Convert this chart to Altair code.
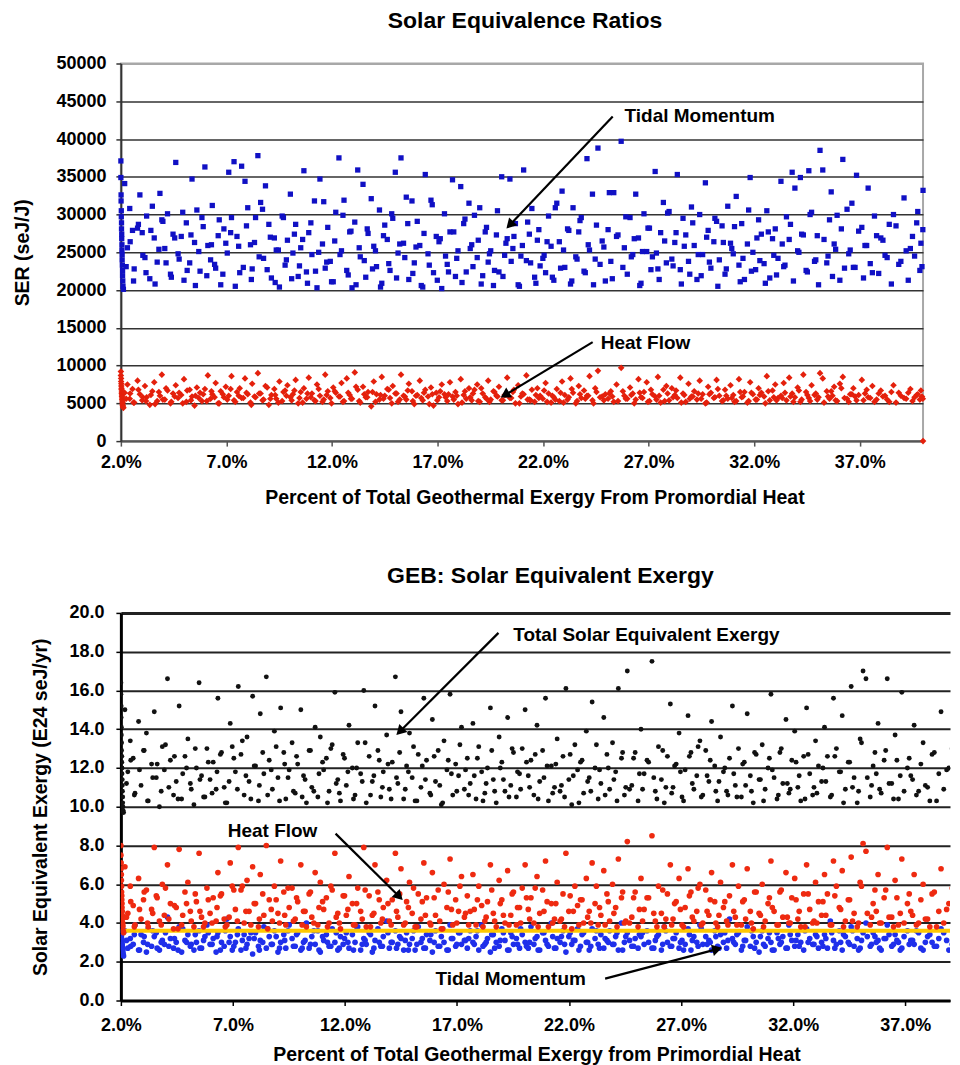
import math
import altair as alt
import pandas as pd

FONT = "Liberation Sans"

# ---------------- data ----------------
pct = [
    2.00, 2.00, 2.01, 2.01, 2.02, 2.02, 2.03, 2.03, 2.04, 2.04, 2.05, 2.05, 2.06, 2.06, 2.07, 2.08, 2.08, 2.09, 2.10, 2.12,
    2.18, 2.31, 2.42, 2.55, 2.63, 2.79, 2.90, 3.01, 3.14, 3.22, 3.37, 3.49, 3.58, 3.72, 3.85, 3.94, 4.08, 4.21, 4.35, 4.47,
    4.60, 4.71, 4.86, 4.99, 5.10, 5.26, 5.37, 5.49, 5.60, 5.75, 5.84, 5.98, 6.12, 6.25, 6.33, 6.49, 6.61, 6.73, 6.88, 6.97,
    7.11, 7.24, 7.36, 7.50, 7.63, 7.72, 7.88, 8.01, 8.14, 8.22, 8.38, 8.49, 8.62, 8.76, 8.85, 9.01, 9.13, 9.27, 9.36, 9.51,
    9.64, 9.78, 9.89, 10.03, 10.15, 10.28, 10.40, 10.52, 10.67, 10.79, 10.90, 11.05, 11.17, 11.29, 11.43, 11.55, 11.68, 11.80, 11.92, 12.06,
    12.18, 12.33, 12.45, 12.57, 12.70, 12.84, 12.95, 13.08, 13.22, 13.34, 13.47, 13.60, 13.71, 13.86, 13.98, 14.11, 14.25, 14.36, 14.50, 14.62,
    14.75, 14.88, 15.00, 15.13, 15.27, 15.39, 15.52, 15.64, 15.79, 15.90, 16.04, 16.16, 16.30, 16.42, 16.55, 16.69, 16.81, 16.94, 17.07, 17.20,
    17.33, 17.46, 17.59, 17.71, 17.85, 17.97, 18.10, 18.24, 18.36, 18.49, 18.62, 18.75, 18.88, 19.00, 19.14, 19.26, 19.40, 19.52, 19.65, 19.79,
    19.91, 20.04, 20.18, 20.30, 20.43, 20.57, 20.69, 20.82, 20.95, 21.08, 21.21, 21.35, 21.47, 21.60, 21.73, 21.86, 21.99, 22.12, 22.26, 22.38,
    22.51, 22.65, 22.77, 22.90, 23.03, 23.16, 23.30, 23.42, 23.55, 23.69, 23.81, 23.94, 24.08, 24.20, 24.34, 24.47, 24.60, 24.80, 24.95, 25.08,
    25.21, 25.35, 25.48, 25.70, 25.85, 25.99, 26.12, 26.25, 26.39, 26.52, 26.64, 26.78, 26.91, 27.04, 27.18, 27.31, 27.44, 27.57, 27.70, 27.84,
    27.97, 28.10, 28.24, 28.36, 28.50, 28.63, 28.76, 28.89, 29.03, 29.16, 29.29, 29.42, 29.56, 29.69, 29.82, 29.95, 30.09, 30.22, 30.35, 30.48,
    30.62, 30.75, 30.88, 31.01, 31.15, 31.28, 31.41, 31.54, 31.68, 31.81, 31.94, 32.07, 32.21, 32.34, 32.47, 32.60, 32.74, 32.87, 33.00, 33.13,
    33.27, 33.40, 33.53, 33.66, 33.80, 33.93, 34.06, 34.19, 34.33, 34.46, 34.59, 34.72, 34.86, 34.99, 35.12, 35.25, 35.50, 35.65, 35.79, 35.93,
    36.06, 36.20, 36.40, 36.55, 36.70, 36.85, 37.10, 37.25, 37.40, 37.60, 37.80, 38.00, 38.20, 38.40, 38.60, 38.85, 39.10, 39.40, 39.70, 40.00,
    2.25, 2.44, 2.60, 2.83, 3.04, 3.19, 3.42, 3.62, 3.80, 3.99, 4.14, 4.39, 4.55, 4.76, 4.93, 5.14, 5.32, 5.53, 5.69, 5.90,
    6.07, 6.29, 6.44, 6.66, 6.83, 7.04, 7.20, 7.42, 7.58, 7.80, 7.95, 8.18, 8.33, 8.55, 8.71, 8.93, 9.08, 9.31, 9.46, 9.70,
    9.84, 10.09, 10.22, 10.46, 10.61, 10.84, 11.00, 11.22, 11.37, 11.61, 11.75, 11.98, 12.13, 12.38, 12.52, 12.77, 12.90, 13.14, 13.29, 13.53,
    13.67, 13.92, 14.06, 14.30, 14.44, 14.69, 14.83, 15.06, 15.21, 15.45, 15.59, 15.83, 15.98, 16.23, 16.36, 16.61, 16.75, 16.99, 17.13, 17.38,
    17.52, 17.77, 17.91, 18.16, 18.30, 18.55, 18.68, 18.93, 19.07, 19.32, 19.46, 19.70, 19.84, 20.10, 20.24, 20.49, 20.62, 20.88, 21.02, 21.27,
    21.41, 21.66, 21.80, 22.05, 22.19, 22.44, 22.58, 22.83, 22.97, 23.22, 23.36, 23.61, 23.75, 24.00, 24.14, 24.39, 24.53, 24.70, 24.88, 25.14,
    25.28, 25.55, 25.78, 25.92, 26.18, 26.32, 26.58, 26.71, 26.97, 27.11, 27.37, 27.50, 27.76, 27.90, 28.16, 28.30, 28.55, 28.69, 28.95, 29.09,
    29.35, 29.49, 29.75, 29.88, 30.14, 30.28, 30.54, 30.68, 30.94, 31.07, 31.34, 31.47, 31.74, 31.87, 32.13, 32.27, 32.53, 32.67, 32.93, 33.06,
    33.33, 33.46, 33.72, 33.86, 34.12, 34.25, 34.52, 34.65, 34.92, 35.05, 35.31, 35.44, 35.57, 35.71, 35.86, 36.13, 36.28, 36.48, 36.63, 36.78,
    36.95, 37.18, 37.33, 37.50, 37.70, 37.90, 38.10, 38.30, 38.50, 38.72, 38.95, 39.20, 39.30, 39.50, 39.60, 39.75, 39.85, 39.90, 39.95, 39.99,
]

ser_tidal = [
    37100, 34900, 32600, 31800, 30500, 29700, 28900, 28100, 27400, 26800, 26000, 25300, 24700, 24000, 23300, 22600, 21900, 21200, 20500, 20100,
    34100, 25600, 30800, 27900, 22800, 28200, 32600, 27600, 24300, 29800, 21500, 31100, 26900, 23700, 32800, 29300, 25500, 30100, 22100, 27400,
    36900, 24800, 27100, 21300, 28900, 23600, 34700, 26300, 30600, 22500, 29600, 36300, 25900, 24000, 31200, 22900, 27200, 20700, 28100, 26200,
    35600, 29600, 37000, 27100, 22300, 36400, 34400, 30900, 26000, 22800, 29600, 37800, 31600, 24200, 33800, 28700, 21600, 26900, 25300, 20400,
    29800, 23300, 26600, 32700, 24900, 28700, 21800, 25600, 35800, 22400, 27600, 24700, 31800, 20300, 34700, 26100, 22900, 28300, 23800, 21100,
    30300, 37500, 25200, 31900, 22600, 27700, 20300, 29000, 35900, 24400, 34000, 21700, 27500, 32100, 25800, 23100, 30600, 20900, 28600, 26700,
    22600, 29500, 35600, 24900, 37500, 26200, 32300, 21400, 31800, 23600, 29100, 25900, 20400, 35300, 24800, 31900, 22300, 27100, 26400, 20200,
    30100, 23400, 27700, 34600, 21800, 25200, 33700, 28800, 22400, 31500, 26000, 29900, 24300, 30900, 21900, 27700, 23700, 25200, 20600, 27300,
    22400, 35000, 24600, 26800, 34700, 25500, 28800, 20700, 24500, 35900, 23900, 27400, 30800, 21700, 26600, 23200, 24200, 22300, 29800, 25800,
    21300, 31500, 26400, 33100, 23000, 28100, 20800, 30900, 24400, 27700, 29600, 22500, 37400, 25300, 32700, 24100, 38800, 26500, 21200, 28000,
    23800, 32900, 27100, 39700, 25600, 22100, 29600, 24700, 32700, 26900, 20900, 30100, 25100, 28200, 24400, 35700, 22800, 27600, 31600, 23600,
    30400, 24100, 26300, 35300, 22700, 29500, 27300, 23800, 31000, 25900, 21400, 30000, 24700, 34200, 27900, 22900, 26400, 29100, 24000, 28500,
    22100, 31100, 26200, 24800, 32400, 23300, 28800, 21400, 26100, 34900, 25000, 22700, 29300, 27400, 23500, 30500, 21600, 26800, 28100, 24200,
    34400, 23100, 29700, 26700, 35600, 33500, 25200, 34900, 27300, 22600, 35800, 30300, 23800, 27200, 38500, 35900, 24500, 33000, 26100, 29900,
    21300, 37300, 30700, 25300, 23000, 35200, 28300, 25900, 33500, 22300, 27200, 26900, 24600, 28700, 30000, 23400, 32200, 25500, 28900, 33200,
    23100, 26400, 21200, 28700, 24600, 22300, 27900, 20800, 25400, 29100, 23600, 21700, 26900, 24100, 30300, 22600, 27300, 20600, 25100, 28400,
    21900, 26000, 23400, 29300, 22100, 24900, 27600, 20500, 25800, 23000, 28500, 21400, 26300, 24400, 30700, 22700, 27000, 21000, 25300, 29600,
    24000, 21500, 27400, 23200, 26700, 20900, 28900, 22500, 25000, 31700, 23700, 21100, 26500, 24700, 29900, 22000, 27800, 20700, 25600, 23900,
    28100, 22800, 25200, 20400, 27200, 23500, 30100, 21600, 26100, 24300, 28800, 22200, 25700, 20600, 27500, 23300, 31300, 21300, 26800, 24500,
    22400, 27700, 24200, 21000, 29400, 25500, 23100, 26600, 20800, 28300, 24800, 22600, 30500, 21800, 26200, 23800, 27100, 20500, 25900, 29000,
    23600, 20900, 28000, 24600, 26400, 21700, 30900, 22900, 25300, 27900, 21200, 24100, 29200, 22300, 26000, 20700, 28600, 23400, 25700, 32900,
    21500, 27300, 23000, 29700, 24400, 26800, 20600, 25100, 28200, 22700, 24900, 21400, 26500, 30200, 23200, 27600, 20800, 25800, 22100, 28900,
    24700, 21900, 27000, 23700, 29500, 20500, 26300, 22800, 25500, 28400, 21100, 24200, 30600, 22500, 26900, 23900, 20900, 27700, 24600, 22000,
    26100, 23300, 28700, 21200, 25000, 27400, 22400, 30000, 24000, 20700, 26700, 23600, 29300, 21800, 25400, 28100, 22900, 24800, 31500, 23000,
    27800, 21600, 25900, 23500, 29800, 22200, 26600, 24300, 20800, 28500, 23800, 25200, 21300, 27100, 24500, 30400, 22600, 26200, 23100, 28000,
]

ser_heat = [
    9200, 8700, 8300, 7900, 7600, 7300, 7000, 6800, 6500, 6300, 6100, 5900, 5700, 5500, 5300, 5100, 4900, 4700, 4500, 4400,
    6400, 7500, 5600, 6900, 5100, 8000, 6200, 5400, 7300, 5800, 4800, 6600, 7800, 5300, 6000, 8800, 5500, 6700, 5000, 6300,
    7400, 5700, 6100, 8200, 5200, 6800, 5900, 4700, 7100, 6400, 5300, 6900, 8700, 5600, 6200, 7700, 5000, 6600, 5800, 7200,
    6000, 8600, 5400, 6500, 7000, 5700, 8300, 6200, 5100, 7600, 5800, 9000, 6300, 5500, 7300, 4800, 6100, 6900, 5600, 7900,
    5300, 6700, 7400, 5800, 6200, 8100, 5000, 6500, 7000, 5600, 8400, 6300, 5400, 7500, 6000, 5200, 8800, 6600, 5700, 7100,
    6400, 5900, 7700, 5300, 8300, 6100, 5600, 9100, 6800, 5100, 7200, 5800, 6500, 4600, 7900, 6200, 5500, 8500, 6000, 6900,
    5700, 7300, 6300, 5200, 8800, 6000, 5500, 7600, 6600, 4900, 6100, 8000, 5400, 6800, 5900, 7100, 4700, 6400, 5800, 7500,
    6200, 5300, 7800, 5900, 6500, 4900, 8200, 6100, 5600, 7000, 5400, 6800, 7500, 5200, 6300, 5800, 8000, 5500, 6600, 6000,
    7200, 5400, 6100, 8400, 5700, 6500, 5000, 7400, 5900, 6200, 8700, 5500, 6800, 5200, 7000, 6000, 5600, 7700, 6300, 5100,
    5800, 6900, 5300, 7900, 6100, 5500, 8300, 6400, 5000, 7300, 5700, 6700, 6000, 8600, 5400, 7000, 9300, 5900, 6200, 5600,
    6600, 5200, 7500, 9700, 6000, 5600, 7100, 6300, 5500, 8200, 5800, 6500, 7800, 5300, 6200, 5900, 8500, 5100, 6800, 7300,
    5400, 7000, 6100, 5700, 8400, 6300, 5200, 7600, 5900, 6600, 5500, 8000, 6200, 5000, 7200, 6400, 5700, 8100, 6000, 5300,
    6800, 5600, 7400, 6100, 5300, 8200, 5800, 6500, 5100, 7800, 6200, 5500, 7000, 6400, 5900, 8600, 5400, 6700, 7500, 5700,
    6000, 7700, 5400, 8400, 6300, 5800, 7100, 5200, 8800, 6500, 5700, 7400, 6100, 5500, 9000, 8300, 5900, 6600, 7200, 5300,
    7600, 8500, 5600, 6200, 7000, 5400, 8100, 6300, 5800, 7300, 5500, 6700, 6000, 5200, 7400, 6400, 5700, 6900, 6100, 0,
    5600, 6300, 5100, 6800, 5800, 5300, 6100, 4900, 6500, 5500, 7000, 5200, 5900, 6400, 5000, 6700, 5400, 6000, 5700, 6200,
    5300, 6600, 5800, 5000, 6200, 5500, 6900, 5200, 6000, 5700, 6400, 4800, 5900, 6300, 5400, 7100, 5600, 6100, 5100, 6500,
    6000, 5400, 6700, 5700, 5100, 6300, 5800, 5300, 6900, 5500, 6100, 5000, 6600, 5900, 5200, 6400, 5600, 7200, 5300, 6200,
    5800, 6500, 5200, 6100, 5600, 6800, 5000, 6300, 5500, 5900, 6700, 5300, 6000, 5700, 6400, 4900, 6200, 5400, 6600, 5800,
    6200, 5500, 6000, 5100, 6600, 5800, 6300, 5300, 7000, 5600, 5200, 6500, 5900, 5400, 6100, 5700, 6800, 5000, 6300, 5500,
    5400, 6100, 5700, 6700, 5200, 6000, 5500, 6400, 5100, 5800, 6900, 5300, 6200, 5600, 6000, 5000, 6500, 5800, 5400, 6300,
    5900, 5300, 6600, 5600, 6100, 5000, 6400, 5700, 5200, 6800, 5500, 6000, 5300, 6300, 5800, 6700, 5100, 6100, 5600, 5900,
    6300, 5600, 5100, 6200, 5800, 6900, 5400, 6000, 5700, 5200, 6500, 5900, 5300, 6400, 5500, 6100, 5000, 6600, 5800, 5400,
    5700, 6400, 5900, 5200, 6700, 5500, 6100, 5300, 6300, 5800, 5100, 6600, 5600, 6000, 5400, 7000, 5700, 5200, 6200, 5900,
    6100, 5400, 6800, 5700, 5200, 6300, 5900, 5500, 6500, 5100, 6000, 5600, 6400, 5300, 5800, 6200, 5500, 6700, 5900, 5600,
]

geb_total = [
    16.4, 15.8, 15.2, 14.6, 14.1, 13.7, 13.3, 12.9, 12.6, 12.3, 12.0, 11.7, 11.4, 11.1, 10.8, 10.5, 10.2, 10.0, 9.8, 9.7,
    15.0, 11.8, 13.4, 12.5, 10.7, 14.4, 11.1, 12.9, 13.8, 10.3, 12.2, 14.9, 11.5, 10.0, 13.1, 11.9, 16.6, 12.4, 10.6, 11.3,
    15.2, 10.4, 12.6, 13.5, 11.2, 10.1, 12.0, 16.4, 11.6, 10.5, 13.0, 11.4, 12.3, 10.9, 15.6, 12.8, 11.0, 10.2, 14.3, 13.1,
    11.8, 16.2, 12.7, 10.6, 13.6, 11.3, 15.7, 12.1, 10.3, 14.8, 11.7, 16.7, 12.4, 10.9, 13.9, 11.5, 15.1, 12.8, 10.4, 11.9,
    13.3, 10.7, 12.2, 15.0, 11.6, 10.2, 12.9, 11.0, 14.1, 10.5, 13.6, 11.9, 12.5, 10.8, 13.2, 15.9, 11.4, 10.3, 12.7, 11.1,
    14.2, 12.0, 10.6, 13.3, 11.7, 16.0, 10.2, 12.6, 11.3, 15.2, 12.9, 10.5, 11.8, 13.7, 10.9, 12.3, 16.7, 11.2, 14.9, 10.4,
    12.1, 13.8, 11.5, 10.3, 12.7, 11.0, 15.6, 12.4, 10.7, 14.5, 11.3, 12.9, 10.1, 13.4, 11.9, 15.8, 10.6, 12.2, 11.6, 14.1,
    10.9, 12.5, 11.2, 14.3, 10.4, 13.1, 11.8, 10.7, 12.0, 15.1, 11.4, 10.2, 13.6, 12.3, 10.8, 14.6, 11.1, 12.8, 10.5, 11.7,
    13.0, 15.0, 11.6, 12.4, 10.6, 14.2, 11.3, 12.9, 15.6, 10.3, 12.1, 11.0, 13.5, 10.8, 12.6, 16.1, 11.4, 10.1, 13.2, 11.9,
    12.3, 10.7, 13.9, 11.5, 15.4, 12.0, 10.4, 11.2, 14.6, 12.7, 10.9, 13.3, 11.8, 16.1, 12.5, 10.6, 17.0, 11.1, 12.8, 10.3,
    14.0, 11.7, 12.4, 17.5, 10.8, 13.1, 11.4, 10.2, 12.6, 15.3, 11.0, 12.2, 13.8, 10.5, 11.9, 14.7, 12.8, 10.9, 11.6, 13.4,
    10.6, 12.9, 11.3, 14.4, 12.1, 10.3, 13.6, 11.8, 10.8, 12.5, 15.2, 11.1, 13.0, 10.5, 12.3, 14.8, 11.6, 10.2, 12.7, 11.4,
    13.2, 10.9, 12.0, 15.8, 11.5, 10.4, 12.8, 11.2, 14.5, 10.7, 12.4, 13.9, 11.0, 10.3, 12.6, 15.1, 11.7, 10.6, 13.4, 12.1,
    11.3, 14.1, 12.6, 10.5, 15.6, 13.0, 11.8, 14.7, 10.9, 12.3, 16.2, 11.5, 10.2, 13.5, 17.0, 16.6, 11.1, 12.8, 14.3, 10.7,
    12.4, 16.6, 11.2, 13.7, 10.4, 15.9, 12.0, 11.6, 14.2, 10.8, 13.3, 11.0, 12.7, 10.3, 14.9, 11.9, 13.0, 10.6, 12.2, 11.5,
    11.2, 12.4, 10.6, 11.9, 12.9, 10.3, 11.5, 12.2, 10.8, 13.2, 11.0, 12.6, 10.4, 11.7, 12.0, 10.9, 13.0, 11.4, 10.5, 12.3,
    10.7, 11.8, 12.7, 10.2, 11.3, 12.5, 10.9, 13.4, 11.6, 10.4, 12.1, 11.1, 12.8, 10.6, 11.9, 13.1, 10.3, 12.2, 11.5, 10.8,
    12.6, 10.5, 11.4, 12.9, 10.8, 11.7, 12.3, 10.2, 13.0, 11.2, 10.7, 12.5, 11.8, 10.4, 12.0, 11.3, 13.3, 10.6, 11.6, 12.4,
    11.0, 12.2, 10.4, 11.5, 12.8, 10.9, 11.8, 13.1, 10.3, 12.1, 11.4, 10.6, 12.6, 11.1, 10.2, 12.4, 11.7, 10.8, 13.2, 11.9,
    10.6, 11.6, 12.5, 10.3, 11.2, 12.9, 10.8, 12.0, 11.4, 10.5, 13.0, 11.8, 10.9, 12.3, 11.0, 12.7, 10.4, 11.5, 12.1, 10.7,
    12.2, 11.1, 10.5, 12.7, 11.6, 10.2, 12.4, 11.3, 10.8, 13.2, 11.9, 10.6, 12.0, 11.4, 10.3, 12.8, 11.0, 10.9, 12.5, 11.7,
    10.9, 12.3, 11.5, 10.4, 12.9, 11.0, 10.7, 12.1, 11.8, 10.3, 12.6, 11.2, 13.1, 10.5, 11.6, 12.4, 10.8, 11.3, 12.0, 10.6,
    11.7, 10.5, 12.2, 11.1, 10.8, 12.8, 11.4, 10.3, 12.5, 11.9, 10.6, 13.0, 11.2, 10.9, 12.3, 11.6, 10.4, 12.7, 11.0, 10.7,
    12.0, 11.3, 10.6, 12.6, 11.8, 10.2, 12.3, 11.0, 10.8, 13.3, 11.5, 10.5, 12.1, 11.7, 10.9, 12.9, 11.2, 10.4, 12.4, 11.6,
    10.8, 12.5, 11.4, 10.6, 12.2, 11.1, 10.3, 12.8, 11.7, 10.9, 12.0, 11.3, 10.5, 12.6, 11.0, 10.7, 12.3, 11.5, 10.4, 12.1,
]

geb_heat = [
    8.0, 7.5, 7.1, 6.8, 6.5, 6.2, 5.9, 5.6, 5.4, 5.2, 5.0, 4.8, 4.6, 4.4, 4.2, 4.0, 3.9, 3.8, 3.6, 3.5,
    6.9, 4.5, 5.9, 4.9, 3.9, 6.3, 4.2, 5.2, 5.7, 3.8, 4.7, 7.9, 5.4, 4.1, 6.0, 4.4, 7.0, 5.0, 3.7, 4.8,
    7.8, 3.9, 5.6, 6.1, 4.6, 3.8, 5.1, 7.6, 4.3, 4.0, 5.8, 4.5, 5.3, 4.1, 6.6, 5.5, 4.2, 3.9, 7.1, 5.9,
    4.7, 7.9, 5.7, 4.0, 6.2, 4.6, 6.9, 5.0, 3.8, 6.5, 4.4, 8.0, 5.2, 4.1, 5.9, 4.5, 7.2, 5.6, 3.9, 4.8,
    5.8, 4.2, 5.1, 7.0, 4.6, 3.8, 5.5, 4.3, 6.6, 3.9, 6.1, 4.7, 5.3, 4.0, 5.7, 7.6, 4.5, 3.7, 5.4, 4.4,
    6.4, 5.0, 3.9, 5.8, 4.6, 7.9, 3.8, 5.4, 4.4, 7.0, 5.6, 4.0, 4.8, 6.2, 4.1, 5.2, 7.6, 4.3, 6.8, 3.9,
    5.1, 6.1, 4.5, 3.8, 5.5, 4.2, 7.1, 5.3, 4.0, 6.6, 4.4, 5.7, 3.7, 6.0, 4.8, 7.3, 3.9, 5.2, 4.6, 6.4,
    4.3, 5.4, 4.6, 6.5, 3.9, 5.9, 4.9, 4.1, 5.1, 7.0, 4.5, 3.8, 6.2, 5.2, 4.0, 6.7, 4.4, 5.6, 3.9, 4.8,
    5.8, 7.0, 4.7, 5.3, 4.0, 6.4, 4.5, 5.7, 7.2, 3.8, 5.0, 4.2, 6.1, 4.1, 5.5, 7.6, 4.6, 3.7, 5.9, 4.9,
    5.2, 4.0, 6.3, 4.6, 7.1, 5.0, 3.9, 4.4, 6.7, 5.5, 4.1, 6.0, 4.8, 7.3, 5.3, 4.0, 8.2, 4.3, 5.6, 3.8,
    6.3, 4.7, 5.3, 8.5, 4.1, 5.9, 4.5, 3.8, 5.5, 7.0, 4.2, 5.1, 6.3, 3.9, 4.8, 6.8, 5.6, 4.1, 4.6, 6.0,
    4.0, 5.7, 4.4, 6.6, 5.1, 3.8, 6.1, 4.8, 4.1, 5.4, 7.0, 4.3, 5.9, 3.9, 5.2, 6.8, 4.6, 3.7, 5.6, 4.5,
    6.0, 4.1, 5.0, 7.2, 4.6, 3.9, 5.6, 4.3, 6.6, 4.0, 5.3, 6.3, 4.2, 3.8, 5.5, 7.0, 4.7, 4.0, 6.1, 5.1,
    4.4, 6.5, 5.5, 3.9, 7.2, 5.9, 4.8, 6.7, 4.1, 5.2, 7.4, 4.5, 3.8, 6.1, 8.1, 7.7, 4.3, 5.7, 6.5, 4.0,
    5.3, 7.9, 4.3, 6.2, 3.9, 7.3, 5.0, 4.6, 6.5, 4.0, 6.0, 4.2, 5.5, 3.8, 6.8, 4.7, 5.8, 3.9, 5.2, 4.5,
    4.3, 5.1, 3.8, 4.7, 5.6, 4.0, 4.5, 5.3, 3.9, 5.8, 4.2, 4.9, 3.7, 4.4, 5.0, 4.1, 5.5, 4.6, 3.8, 5.2,
    4.0, 4.8, 5.4, 3.8, 4.3, 5.7, 4.1, 5.9, 4.6, 3.9, 5.0, 4.2, 5.5, 3.7, 4.7, 5.2, 4.0, 4.4, 5.8, 4.1,
    5.3, 3.9, 4.6, 5.6, 4.0, 4.8, 5.1, 3.8, 5.9, 4.3, 4.0, 5.4, 4.7, 3.9, 5.0, 4.2, 5.7, 3.8, 4.5, 5.2,
    4.2, 5.0, 3.9, 4.6, 5.5, 4.0, 4.8, 5.8, 3.8, 5.1, 4.4, 3.9, 5.3, 4.1, 3.7, 5.6, 4.7, 4.0, 5.9, 4.5,
    3.9, 4.7, 5.2, 3.8, 4.3, 5.7, 4.1, 5.0, 4.4, 3.9, 5.5, 4.8, 4.0, 5.3, 4.2, 5.8, 3.8, 4.6, 5.1, 4.0,
    5.0, 4.2, 3.8, 5.4, 4.6, 3.9, 5.2, 4.3, 4.0, 5.9, 4.8, 3.9, 5.1, 4.5, 3.8, 5.6, 4.1, 4.0, 5.3, 4.7,
    4.1, 5.3, 4.5, 3.8, 5.7, 4.2, 3.9, 5.0, 4.7, 3.8, 5.4, 4.3, 5.8, 3.9, 4.6, 5.2, 4.0, 4.4, 5.1, 3.9,
    4.6, 3.9, 5.1, 4.2, 4.0, 5.6, 4.4, 3.8, 5.3, 4.8, 3.9, 5.7, 4.3, 4.0, 5.2, 4.6, 3.8, 5.5, 4.1, 4.0,
    5.1, 4.4, 3.9, 5.4, 4.7, 3.8, 5.2, 4.1, 4.0, 5.9, 4.5, 3.9, 5.0, 4.6, 4.0, 5.7, 4.3, 3.8, 5.3, 4.5,
    4.0, 5.5, 4.4, 3.9, 5.2, 4.2, 3.8, 5.6, 4.6, 4.0, 5.0, 4.3, 3.9, 5.4, 4.1, 4.0, 5.1, 4.5, 3.8, 5.0,
]

geb_tidal = [
    3.9, 3.7, 3.6, 3.5, 3.4, 3.3, 3.2, 3.1, 3.0, 2.95, 2.9, 2.85, 2.8, 2.75, 2.7, 2.65, 2.6, 2.5, 2.4, 2.3,
    3.6, 2.7, 3.2, 2.9, 3.9, 2.6, 3.4, 3.0, 2.5, 3.7, 2.8, 3.3, 3.5, 2.6, 3.1, 2.9, 4.3, 3.2, 2.7, 3.0,
    3.8, 2.5, 3.1, 3.4, 2.8, 2.6, 3.0, 3.6, 2.7, 3.3, 3.9, 2.9, 3.2, 2.5, 3.5, 3.0, 2.8, 4.2, 3.3, 2.6,
    3.0, 3.7, 2.6, 3.4, 2.9, 3.2, 2.4, 3.5, 2.8, 3.1, 3.8, 2.7, 3.3, 2.9, 3.6, 2.5, 3.0, 3.4, 2.7, 3.9,
    3.2, 2.8, 3.5, 2.6, 3.0, 4.0, 2.7, 3.3, 2.9, 3.6, 2.5, 3.1, 3.4, 2.8, 3.7, 3.0, 2.6, 3.3, 2.9, 3.5,
    2.7, 3.4, 3.0, 3.8, 2.6, 3.2, 2.9, 3.5, 2.5, 3.1, 3.7, 2.8, 3.3, 4.1, 2.7, 3.0, 3.6, 2.9, 3.2, 2.6,
    3.5, 2.9, 3.2, 2.6, 3.8, 3.0, 2.7, 3.4, 3.1, 2.5, 3.6, 2.8, 3.3, 3.0, 2.6, 3.9, 3.2, 2.8, 3.5, 2.9,
    3.1, 2.7, 3.6, 3.0, 3.3, 2.6, 3.9, 2.9, 3.2, 2.5, 3.4, 3.0, 2.8, 3.7, 3.1, 2.6, 3.5, 2.9, 3.2, 2.7,
    3.4, 3.0, 2.7, 3.8, 2.9, 3.3, 2.6, 3.5, 3.1, 2.8, 4.0, 2.7, 3.2, 3.0, 3.6, 2.5, 3.3, 2.9, 3.1, 3.7,
    2.8, 3.5, 3.0, 2.6, 3.7, 3.2, 2.9, 3.4, 2.7, 3.1, 3.6, 2.9, 3.3, 2.6, 4.0, 3.0, 3.5, 2.8, 3.2, 2.7,
    3.3, 2.9, 3.6, 2.7, 3.1, 3.4, 2.6, 3.8, 3.0, 2.8, 3.2, 3.5, 2.7, 3.1, 2.9, 3.7, 2.6, 3.3, 3.0, 3.9,
    2.9, 3.3, 3.1, 2.6, 3.6, 2.8, 3.4, 3.0, 2.7, 4.2, 3.2, 2.9, 3.5, 2.6, 3.1, 3.8, 2.8, 3.3, 3.0, 2.5,
    3.6, 2.8, 3.2, 3.0, 2.6, 3.5, 2.9, 3.3, 2.7, 3.9, 3.1, 2.8, 3.4, 3.0, 2.6, 3.7, 3.2, 2.9, 3.4, 2.7,
    3.0, 3.4, 2.7, 4.1, 3.1, 2.9, 3.6, 2.6, 3.3, 3.0, 3.8, 2.8, 3.2, 2.7, 3.5, 4.0, 2.9, 3.3, 3.1, 2.6,
    3.2, 3.9, 2.8, 3.4, 3.0, 2.7, 3.6, 3.1, 2.9, 3.5, 2.6, 3.3, 3.0, 2.8, 3.7, 3.1, 2.9, 3.4, 2.7, 3.2,
    3.1, 2.8, 3.4, 2.6, 3.3, 2.9, 3.6, 2.7, 3.0, 3.5, 2.8, 3.2, 2.6, 3.7, 3.0, 2.9, 3.4, 2.7, 3.1, 3.5,
    2.9, 3.3, 2.6, 3.6, 3.0, 2.8, 3.4, 3.1, 2.7, 3.5, 3.2, 2.6, 3.0, 3.7, 2.9, 3.3, 2.7, 3.1, 3.6, 2.8,
    3.4, 2.7, 3.1, 2.9, 3.6, 2.6, 3.3, 3.0, 2.8, 3.5, 2.7, 3.2, 3.0, 2.6, 3.8, 2.9, 3.1, 3.4, 2.7, 3.0,
    2.8, 3.5, 3.0, 2.7, 3.3, 3.1, 2.6, 3.6, 2.9, 3.2, 2.7, 3.4, 3.0, 2.8, 3.7, 2.6, 3.2, 2.9, 3.5, 3.1,
    3.2, 2.9, 3.6, 2.8, 3.0, 3.4, 2.7, 3.1, 3.5, 2.6, 3.3, 2.9, 3.7, 2.8, 3.0, 3.2, 2.6, 3.5, 2.9, 3.3,
    2.7, 3.3, 2.9, 3.5, 3.1, 2.6, 3.4, 3.0, 2.8, 3.6, 2.7, 3.2, 3.0, 2.9, 3.5, 2.6, 3.3, 3.1, 2.8, 3.4,
    3.5, 3.0, 2.7, 3.3, 2.9, 3.6, 2.8, 3.2, 3.0, 2.6, 3.4, 3.1, 2.8, 3.7, 2.9, 3.0, 3.3, 2.7, 3.5, 3.1,
    3.0, 3.4, 2.8, 3.1, 3.6, 2.7, 3.3, 2.9, 3.5, 2.6, 3.2, 3.0, 2.7, 3.4, 3.1, 2.8, 3.6, 3.0, 2.9, 3.3,
    2.8, 3.2, 3.5, 2.7, 3.0, 3.4, 2.9, 3.6, 2.6, 3.1, 3.3, 2.8, 3.5, 3.0, 2.7, 3.2, 3.4, 2.9, 3.1, 2.6,
    3.3, 2.9, 3.1, 3.6, 2.7, 3.0, 3.4, 2.8, 3.2, 3.5, 2.6, 3.1, 2.9, 3.3, 3.0, 3.6, 2.7, 3.2, 2.9, 3.4,
]

x_ticks = [2, 7, 12, 17, 22, 27, 32, 37]
ser_ticks = [0, 5000, 10000, 15000, 20000, 25000, 30000, 35000, 40000, 45000, 50000]
geb_ticks = [0, 2, 4, 6, 8, 10, 12, 14, 16, 18, 20]
yellow_level = [3.6]

# annotations: label, text x/y, arrow tail x/y, arrow head x/y
ser_notes = ["Tidal Momentum", "Heat Flow"]
ser_note_x = [25.86, 24.73]
ser_note_y = [43100, 12960]
ser_tail_x = [25.3, 24.35]
ser_tail_y = [42990, 13100]
ser_head_x = [20.23, 19.95]
ser_head_y = [28040, 5690]

geb_notes = ["Total Solar Equivalent Exergy", "Heat Flow", "Tidal Momentum"]
geb_note_x = [19.51, 6.77, 16.04]
geb_note_y = [18.87, 8.76, 1.13]
geb_tail_x = [18.85, 11.58, 23.61]
geb_tail_y = [18.97, 8.61, 1.13]
geb_head_x = [14.26, 14.61, 28.87]
geb_head_y = [13.66, 5.15, 2.73]

# ---------------- layout ----------------
W1, H1 = 803, 378
X1 = [2, 40]
Y1 = [0, 50000]
W2, H2 = 830, 388
X2 = [2, 39]
Y2 = [0, 20]

n = min(len(pct), len(ser_tidal), len(ser_heat), len(geb_total), len(geb_heat), len(geb_tidal))
df = pd.DataFrame({
    "pct": pct[:n], "ser_tidal": ser_tidal[:n], "ser_heat": ser_heat[:n],
    "geb_total": geb_total[:n], "geb_heat": geb_heat[:n], "geb_tidal": geb_tidal[:n],
})


def arrow_frames(tx, ty, hx, hy, xd, yd, W, H):
    kx = W / (xd[1] - xd[0])
    ky = H / (yd[1] - yd[0])
    rows_l, rows_h = [], []
    for a, b, c, d in zip(tx, ty, hx, hy):
        dxp = (c - a) * kx
        dyp = -(d - b) * ky
        L = math.hypot(dxp, dyp)
        ux, uy = dxp / L, dyp / L
        back = 6.0
        cx = c - ux * back / kx
        cy = d + uy * back / ky
        ang = math.degrees(math.atan2(dxp, -dyp)) % 360
        rows_l.append({"ax": a, "ay": b, "bx": cx, "by": cy})
        rows_h.append({"ax": cx, "ay": cy, "ang": ang})
    return pd.DataFrame(rows_l), pd.DataFrame(rows_h)


label_expr = "format(datum.value, '.1f') + '%'"

# ---------------- top chart ----------------
xt1 = "Percent of Total Geothermal Exergy From Promordial Heat"
yt1 = "SER (seJ/J)"
xs1 = alt.Scale(domain=X1, nice=False, zero=False)
ys1 = alt.Scale(domain=Y1, nice=False)

ax_x1 = alt.Axis(values=x_ticks, labelExpr=label_expr, grid=False, title=xt1, labelFlush=False,
                 domainColor="#555555", domainWidth=2, tickColor="#555555", tickSize=5, tickWidth=1.5,
                 labelPadding=7, titlePadding=17, titleX=414)
ax_y1 = alt.Axis(values=ser_ticks, format="d", title=yt1,
                 gridColor={"condition": {"test": "datum.value === 50000", "value": "#A8A8A8"}, "value": "#333333"},
                 gridWidth={"condition": {"test": "datum.value === 50000", "value": 2}, "value": 1.5},
                 domainColor="#333333", domainWidth=2, tickColor="#333333", tickSize=5, tickWidth=1.5,
                 labelPadding=10, titlePadding=23)


def enc1(xf, yf):
    return dict(x=alt.X(xf, scale=xs1, axis=ax_x1, title=xt1),
                y=alt.Y(yf, scale=ys1, axis=ax_y1, title=yt1))


base1 = alt.Chart(df)
blue1 = base1.mark_point(shape="square", filled=True, size=28, color="#1010C4", opacity=1).encode(
    **enc1("pct:Q", "ser_tidal:Q"))
red1 = base1.mark_point(shape="diamond", filled=True, size=44, color="#E4200C", opacity=1).encode(
    **enc1("pct:Q", "ser_heat:Q"))

n1 = pd.DataFrame({"t": ser_notes, "x": ser_note_x, "y": ser_note_y})
l1, h1 = arrow_frames(ser_tail_x, ser_tail_y, ser_head_x, ser_head_y, X1, Y1, W1, H1)

txt1 = alt.Chart(n1).mark_text(align="left", baseline="middle", font=FONT, fontSize=19,
                               fontWeight="bold", color="black").encode(
    text="t:N", **enc1("x:Q", "y:Q"))
line1 = alt.Chart(l1).mark_rule(color="black", strokeWidth=2.2).encode(
    x2="bx:Q", y2="by:Q", **enc1("ax:Q", "ay:Q"))
head1 = alt.Chart(h1).mark_point(shape="triangle-up", filled=True, size=130, color="black", opacity=1).encode(
    angle=alt.Angle("ang:Q", scale=None), **enc1("ax:Q", "ay:Q"))

top = alt.layer(blue1, red1, line1, head1, txt1).properties(
    width=W1, height=H1,
    view=alt.ViewBackground(stroke="#A8A8A8", strokeWidth=2),
    title=alt.TitleParams("Solar Equivalence Ratios", font=FONT, fontSize=23, fontWeight="bold",
                          anchor="middle", frame="group", offset=22, dx=3, color="black"),
)

# ---------------- bottom chart ----------------
xt2 = "Percent of Total Geothermal Exergy from Primordial Heat"
yt2 = "Solar Equivalent Exergy (E24 seJ/yr)"
xs2 = alt.Scale(domain=X2, nice=False, zero=False)
ys2 = alt.Scale(domain=Y2, nice=False)

ax_x2 = alt.Axis(values=x_ticks, labelExpr=label_expr, grid=False, title=xt2, labelFlush=False,
                 domainColor="black", domainWidth=3, tickColor="black", tickSize=5, tickWidth=1.5,
                 labelPadding=11, titlePadding=11, titleX=416)
ax_y2 = alt.Axis(values=geb_ticks, format=".1f", title=yt2,
                 gridColor="#222222",
                 gridWidth={"condition": {"test": "datum.value === 20", "value": 3}, "value": 2},
                 domainColor="black", domainWidth=3, tickColor="black", tickSize=5, tickWidth=1.5,
                 labelPadding=12, titlePadding=18)


def enc2(xf, yf):
    return dict(x=alt.X(xf, scale=xs2, axis=ax_x2, title=xt2),
                y=alt.Y(yf, scale=ys2, axis=ax_y2, title=yt2))


base2 = alt.Chart(df)
blue2 = base2.mark_circle(size=32, color="#1F2FEA", opacity=1, clip=True).encode(
    **enc2("pct:Q", "geb_tidal:Q"))
yel = alt.Chart(pd.DataFrame({"y": yellow_level, "x": [X2[0]], "x2": [X2[1]]})).mark_rule(
    color="#FFC800", strokeWidth=4).encode(x2="x2:Q", **enc2("x:Q", "y:Q"))
red2 = base2.mark_circle(size=32, color="#EE2A10", opacity=1, clip=True).encode(
    **enc2("pct:Q", "geb_heat:Q"))
blk2 = base2.mark_circle(size=24, color="#111111", opacity=1, clip=True).encode(
    **enc2("pct:Q", "geb_total:Q"))

n2 = pd.DataFrame({"t": geb_notes, "x": geb_note_x, "y": geb_note_y})
l2, h2 = arrow_frames(geb_tail_x, geb_tail_y, geb_head_x, geb_head_y, X2, Y2, W2, H2)

txt2 = alt.Chart(n2).mark_text(align="left", baseline="middle", font=FONT, fontSize=19,
                               fontWeight="bold", color="black").encode(
    text="t:N", **enc2("x:Q", "y:Q"))
line2 = alt.Chart(l2).mark_rule(color="black", strokeWidth=2.2).encode(
    x2="bx:Q", y2="by:Q", **enc2("ax:Q", "ay:Q"))
head2 = alt.Chart(h2).mark_point(shape="triangle-up", filled=True, size=130, color="black", opacity=1).encode(
    angle=alt.Angle("ang:Q", scale=None), **enc2("ax:Q", "ay:Q"))

bottom = alt.layer(blue2, yel, red2, blk2, line2, head2, txt2).properties(
    width=W2, height=H2,
    view=alt.ViewBackground(stroke=None),
    title=alt.TitleParams("GEB: Solar Equivalent Exergy", font=FONT, fontSize=23, fontWeight="bold",
                          anchor="middle", frame="group", offset=16, dx=15, color="black"),
)

chart = alt.vconcat(top, bottom, spacing=57).properties(
    padding={"left": 3, "top": 0, "right": 0, "bottom": 0},
).configure_axis(
    labelFont=FONT, labelFontSize=18, labelFontWeight="bold", labelColor="black",
    titleFont=FONT, titleFontSize=19.5, titleFontWeight="bold", titleColor="black",
).configure_view(strokeWidth=0)

chart.save("out.html", embed_options={"renderer": "svg", "actions": False})
